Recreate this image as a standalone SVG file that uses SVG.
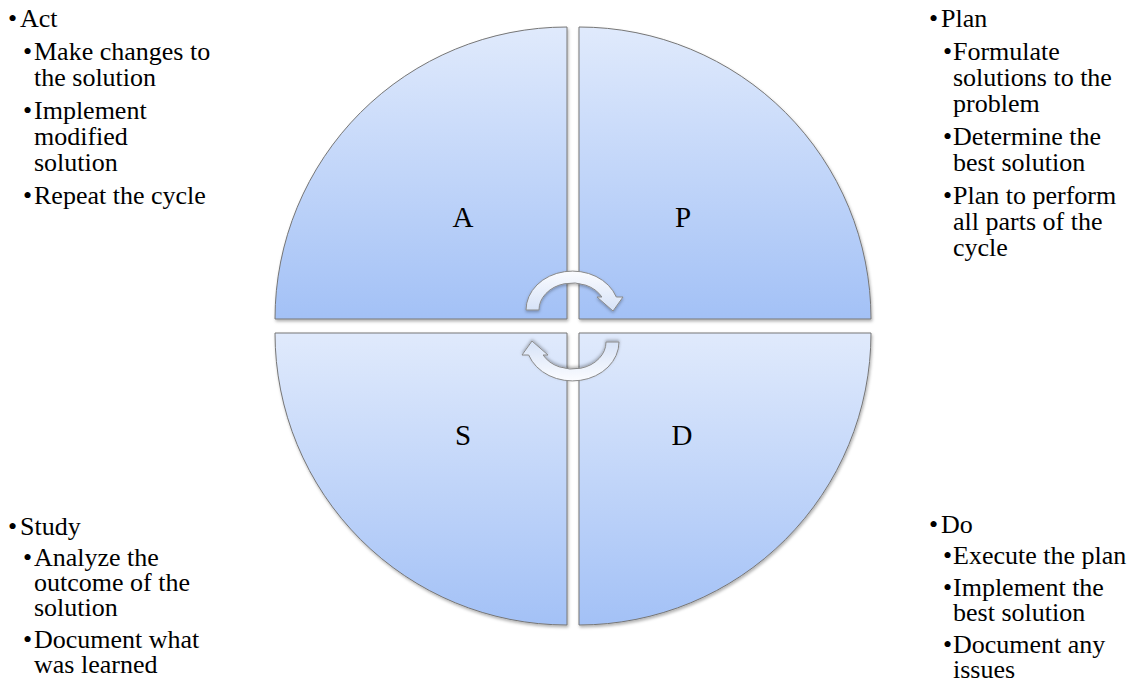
<svg xmlns="http://www.w3.org/2000/svg" width="1136" height="685" viewBox="0 0 1136 685">
<style>
text{font-family:"Liberation Serif","Times New Roman",serif;fill:#000}
.q{fill:url(#qg);stroke:#767676;stroke-width:1;filter:url(#sh)}
.lbl{font-size:29px;text-anchor:middle}
.t{font-size:26px}
.arr{fill:url(#ag);stroke:#8a8a8a;stroke-width:1;filter:url(#ash)}
</style>
<defs>
<linearGradient id="qg" x1="0" y1="0" x2="0" y2="1">
<stop offset="0" stop-color="#e0eafc"/>
<stop offset="1" stop-color="#a3c1f6"/>
</linearGradient>
<linearGradient id="ag" x1="0" y1="0" x2="0" y2="1">
<stop offset="0" stop-color="#fbfcff"/>
<stop offset="1" stop-color="#d6e2f7"/>
</linearGradient>
<filter id="sh" x="-5%" y="-5%" width="115%" height="115%">
<feDropShadow dx="1" dy="2" stdDeviation="1.5" flood-color="#000" flood-opacity="0.3"/>
</filter>
<filter id="ash" x="-20%" y="-20%" width="140%" height="140%">
<feDropShadow dx="0" dy="1.5" stdDeviation="1.5" flood-color="#000" flood-opacity="0.3"/>
</filter>
</defs>
<rect width="1136" height="685" fill="#fff"/>

<g id="node-A">
<path class="q" d="M567,319 L275,319 A292,292 0 0 1 567,27 Z"/>
<text class="lbl" x="463" y="227">A</text>
</g>
<g id="node-P">
<path class="q" d="M579,319 L579,27 A292,292 0 0 1 871,319 Z"/>
<text class="lbl" x="683" y="227">P</text>
</g>
<g id="node-S">
<path class="q" d="M567,333 L567,625 A292,292 0 0 1 275,333 Z"/>
<text class="lbl" x="463" y="445">S</text>
</g>
<g id="node-D">
<path class="q" d="M579,333 L871,333 A292,292 0 0 1 579,625 Z"/>
<text class="lbl" x="682" y="445">D</text>
</g>

<g id="connectors">
<path id="arrow-top" class="arr" transform="translate(572.5,326)" d="M-46.5,-16 A46.5,39 0 0 1 43.8,-29 L50.5,-29 L40.5,-15 L24.5,-29 L29.4,-29 A33.5,27 0 0 0 -33.5,-16 Z"/>
<path id="arrow-bottom" class="arr" transform="translate(572.5,326) rotate(180)" d="M-46.5,-16 A46.5,39 0 0 1 43.8,-29 L50.5,-29 L40.5,-15 L24.5,-29 L29.4,-29 A33.5,27 0 0 0 -33.5,-16 Z"/>
</g>

<g id="text-act">
<text class="t" y="27"><tspan x="8">•</tspan><tspan x="20">Act</tspan></text>
<text class="t" y="60"><tspan x="23">•</tspan><tspan x="34">Make changes to</tspan></text>
<text class="t" x="34" y="86">the solution</text>
<text class="t" y="119"><tspan x="23">•</tspan><tspan x="34">Implement</tspan></text>
<text class="t" x="34" y="145">modified</text>
<text class="t" x="34" y="171">solution</text>
<text class="t" y="204"><tspan x="23">•</tspan><tspan x="34">Repeat the cycle</tspan></text>
</g>

<g id="text-plan">
<text class="t" y="27"><tspan x="929">•</tspan><tspan x="941">Plan</tspan></text>
<text class="t" y="60"><tspan x="943">•</tspan><tspan x="953">Formulate</tspan></text>
<text class="t" x="953" y="86">solutions to the</text>
<text class="t" x="953" y="112">problem</text>
<text class="t" y="145"><tspan x="943">•</tspan><tspan x="953">Determine the</tspan></text>
<text class="t" x="953" y="171">best solution</text>
<text class="t" y="204"><tspan x="943">•</tspan><tspan x="953">Plan to perform</tspan></text>
<text class="t" x="953" y="230">all parts of the</text>
<text class="t" x="953" y="256">cycle</text>
</g>

<g id="text-study">
<text class="t" y="535"><tspan x="8">•</tspan><tspan x="20">Study</tspan></text>
<text class="t" y="566"><tspan x="23">•</tspan><tspan x="34">Analyze the</tspan></text>
<text class="t" x="34" y="591">outcome of the</text>
<text class="t" x="34" y="616">solution</text>
<text class="t" y="648"><tspan x="23">•</tspan><tspan x="34">Document what</tspan></text>
<text class="t" x="34" y="673">was learned</text>
</g>

<g id="text-do">
<text class="t" y="533"><tspan x="929">•</tspan><tspan x="941">Do</tspan></text>
<text class="t" y="564"><tspan x="943">•</tspan><tspan x="953">Execute the plan</tspan></text>
<text class="t" y="596"><tspan x="943">•</tspan><tspan x="953">Implement the</tspan></text>
<text class="t" x="953" y="621">best solution</text>
<text class="t" y="653"><tspan x="943">•</tspan><tspan x="953">Document any</tspan></text>
<text class="t" x="953" y="678">issues</text>
</g>
</svg>
